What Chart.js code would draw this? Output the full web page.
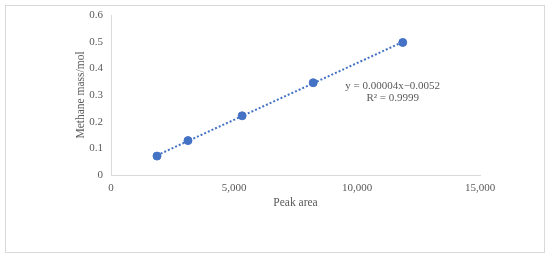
<!DOCTYPE html>
<html><head><meta charset="utf-8">
<script src="https://cdn.jsdelivr.net/npm/chart.js@4"></script>
<style>html,body{margin:0;padding:0;background:#fff}#w{width:550px;height:258px}</style>
</head><body><div id="w"><canvas id="c" width="550" height="258"></canvas></div>
<script>
const peakArea = [1870, 3130, 5330, 8220, 11860];
const methaneMass = [0.071, 0.129, 0.222, 0.346, 0.497];
const xTicks = [0, 5000, 10000, 15000];
const yTicks = [0, 0.1, 0.2, 0.3, 0.4, 0.5, 0.6];
const equationLines = ['y = 0.00004x\u22120.0052', 'R\u00b2 = 0.9999'];

// least-squares trendline from the data
const n = peakArea.length;
const mx = peakArea.reduce((a,b)=>a+b,0)/n, my = methaneMass.reduce((a,b)=>a+b,0)/n;
let sxy=0,sxx=0; for(let i=0;i<n;i++){sxy+=(peakArea[i]-mx)*(methaneMass[i]-my);sxx+=(peakArea[i]-mx)**2;}
const slope=sxy/sxx, icpt=my-slope*mx;
const xMin=Math.min(...peakArea), xMax=Math.max(...peakArea);
const trend=[{x:xMin,y:slope*xMin+icpt},{x:xMax,y:slope*xMax+icpt}];

const col='#4472C4', txt='#595959', font='"Liberation Serif","Times New Roman",serif';
const deco={id:'deco',
 beforeDraw(ch){const c=ch.ctx;c.save();c.fillStyle='#fff';c.fillRect(0,0,ch.width,ch.height);
  c.strokeStyle='#d9d9d9';c.lineWidth=1;c.strokeRect(5.5,5.5,539,247);c.restore();},
 afterDraw(ch){const c=ch.ctx,xs=ch.scales.x,ys=ch.scales.y;c.save();c.fillStyle=txt;
  c.font='11px '+font;c.textAlign='center';c.textBaseline='middle';
  const px=xs.getPixelForValue(11450), py=ys.getPixelForValue(0.333);
  c.fillText(equationLines[0],px,py);c.fillText(equationLines[1],px,py+12);c.restore();}
};
new Chart(document.getElementById('c'),{
 type:'scatter',
 data:{datasets:[
  {data:trend,showLine:true,borderColor:col,borderWidth:2,borderDash:[2,2],pointRadius:0,fill:false,order:2},
  {data:peakArea.map((x,i)=>({x,y:methaneMass[i]})),backgroundColor:col,borderColor:col,pointRadius:4,order:1}
 ]},
 options:{responsive:false,animation:false,devicePixelRatio:1,
  layout:{padding:{top:15,right:70,bottom:0,left:0}},
  plugins:{legend:{display:false},tooltip:{enabled:false}},
  scales:{
   x:{type:'linear',min:0,max:15000,
    afterFit(s){s.height=83;},
    afterBuildTicks(s){s.ticks=xTicks.map(v=>({value:v}));},
    grid:{display:false,drawTicks:false},border:{display:true,color:'#d9d9d9',width:1},
    ticks:{color:txt,font:{family:font,size:11},padding:7,maxRotation:0,
     callback:v=>v.toLocaleString('en-US')},
    title:{display:true,text:'Peak area',color:txt,font:{family:font,size:11.5},padding:{top:0,bottom:48}}},
   y:{type:'linear',min:0,max:0.6,
    afterFit(s){s.width=111;},
    afterBuildTicks(s){s.ticks=yTicks.map(v=>({value:v}));},
    grid:{display:false,drawTicks:false},border:{display:true,color:'#d9d9d9',width:1},
    ticks:{color:txt,font:{family:font,size:11},padding:8,callback:v=>String(+v.toFixed(1))},
    title:{display:true,text:'Methane mass/mol',color:txt,font:{family:font,size:11.5},padding:{top:74,bottom:0}}}
  }},
 plugins:[deco]
});
</script></body></html>
